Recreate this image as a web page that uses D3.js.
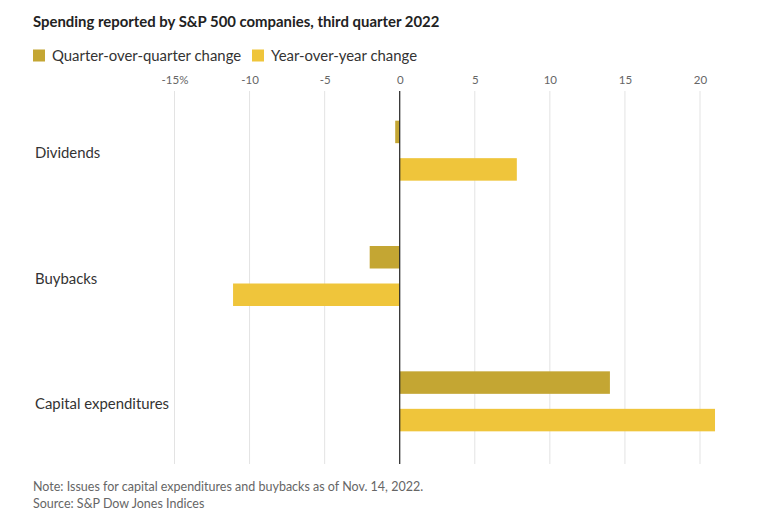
<!DOCTYPE html>
<html><head><meta charset="utf-8">
<script src="https://cdn.jsdelivr.net/npm/d3@7"></script>
<style>
body{margin:0;background:#fff;}
text{font-family:Lato,"Noto Sans",sans-serif;}
</style></head>
<body>
<svg id="c" width="771" height="524"></svg>
<script>
const categories = ["Dividends","Buybacks","Capital expenditures"];
const seriesNames = ["Quarter-over-quarter change","Year-over-year change"];
const qoq = [-0.3, -2.0, 14.0];
const yoy = [7.8, -11.1, 21.0];
const tickValues = [-15,-10,-5,0,5,10,15,20];
const tickLabels = ["-15%","-10","-5","0","5","10","15","20"];
const colors = ["#c4a633","#efc53b"];

const svg = d3.select("#c");
const x = d3.scaleLinear().domain([-15,20]).range([174.5,700]);
const y0 = d3.scaleBand().domain(categories).range([88,464]);
const y1 = d3.scaleBand().domain(seriesNames).range([0,60]).paddingInner(0.4).paddingOuter(0);
const gridTop = 91, gridBot = 464;

svg.append("text").attr("x",33).attr("y",27).attr("font-size",14.9).attr("font-weight",700).attr("fill","#222")
  .text("Spending reported by S&P 500 companies, third quarter 2022");

// legend
const legX = [33, 252];
seriesNames.forEach((s,i)=>{
  svg.append("rect").attr("x",legX[i]).attr("y",49.5).attr("width",12).attr("height",12).attr("fill",colors[i]);
  svg.append("text").attr("x",legX[i]+19).attr("y",61).attr("font-size",14.9).attr("fill","#333").text(s);
});

// grid
const axis = d3.axisTop(x).tickValues(tickValues).tickFormat((d,i)=>tickLabels[i]).tickSize(0).tickPadding(0);
const gx = svg.append("g").attr("transform","translate(0,84)").call(axis);
gx.select(".domain").remove();
gx.selectAll("text").attr("font-size",11.5).attr("fill","#666").attr("font-family","Lato,'Noto Sans',sans-serif").attr("dy",0);
svg.append("g").selectAll("line").data(tickValues.filter(d=>d!==0)).join("line")
  .attr("x1",d=>x(d)).attr("x2",d=>x(d)).attr("y1",gridTop).attr("y2",gridBot)
  .attr("stroke","#e3e3e3").attr("stroke-width",1);

// bars
const data = categories.map((c,i)=>({c, vals:[qoq[i], yoy[i]]}));
const groups = svg.append("g").selectAll("g").data(data).join("g")
  .attr("transform",d=>`translate(0,${y0(d.c)+y0.bandwidth()/2-30})`);
groups.selectAll("rect").data(d=>d.vals.map((v,i)=>({v,s:seriesNames[i],i}))).join("rect")
  .attr("x",d=>x(Math.min(0,d.v))).attr("width",d=>Math.abs(x(d.v)-x(0)))
  .attr("y",d=>y1(d.s)).attr("height",y1.bandwidth()).attr("fill",d=>colors[d.i]);

// zero line
svg.append("line").attr("x1",x(0)).attr("x2",x(0)).attr("y1",gridTop).attr("y2",gridBot).attr("stroke","#222").attr("stroke-width",1.2);

// category labels
svg.append("g").selectAll("text").data(categories).join("text")
  .attr("x",35).attr("y",d=>y0(d)+y0.bandwidth()/2+7.5).attr("font-size",14.9).attr("fill","#333").text(d=>d);

// footer
svg.append("text").attr("x",33).attr("y",491).attr("font-size",12.5).attr("fill","#666")
  .text("Note: Issues for capital expenditures and buybacks as of Nov. 14, 2022.");
svg.append("text").attr("x",33).attr("y",507.5).attr("font-size",12.5).attr("fill","#666")
  .text("Source: S&P Dow Jones Indices");
</script>
</body></html>
